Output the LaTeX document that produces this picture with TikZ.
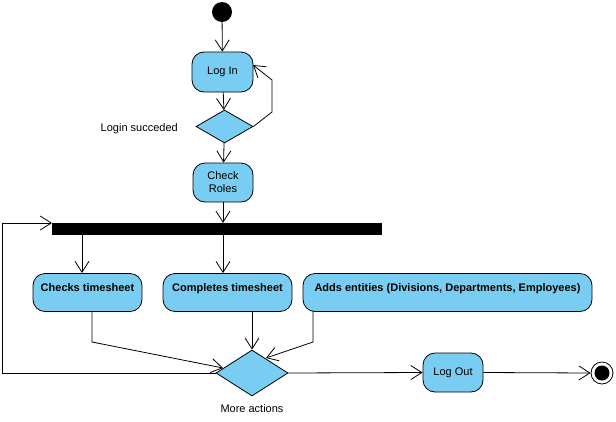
\documentclass[tikz,border=0pt]{standalone}
\usepackage{fontspec}
\setmainfont{Liberation Sans}
\usetikzlibrary{arrows.meta,shapes.geometric}
\definecolor{actfill}{RGB}{122,205,242}
\begin{document}
\begin{tikzpicture}[x=1pt,y=-1pt,
  font=\fontsize{11}{13}\selectfont,
  action/.style={draw=black,line width=0.8pt,fill=actfill,rounded corners=12pt,
    inner sep=0pt,align=center},
  boldaction/.style={action,font=\fontsize{11}{13}\selectfont\bfseries,text depth=11pt,text height=8pt},
  decision/.style={draw=black,line width=0.8pt,fill=actfill,diamond,inner sep=0pt},
  flow/.style={draw=black,line width=0.8pt,-{Straight Barb[length=11pt,width=14pt,line width=0.8pt]}},
]
\useasboundingbox (0,0) rectangle (616,421);

% start and end
\node[circle,fill=black,minimum size=20pt,inner sep=0pt] (start) at (222,12) {};
\node[circle,draw=black,line width=0.8pt,fill=white,minimum size=22pt,inner sep=0pt] (final) at (602,373) {};
\fill[black] (final) circle (7.5pt);

% actions
\node[action,minimum width=61pt,minimum height=40pt] (login) at (222.5,72) {Log In};
\node[decision,minimum width=57pt,minimum height=33pt] (ok) at (224.5,126.5) {};
\node[action,minimum width=60pt,minimum height=39pt] (check) at (223,182.5) {Check\\Roles};
\node[fill=black,minimum width=330pt,minimum height=12pt,inner sep=0pt] (bar) at (217,229) {};
\node[boldaction,minimum width=109pt,minimum height=38pt] (checks) at (87.5,292.5) {Checks timesheet};
\node[boldaction,minimum width=129pt,minimum height=38pt] (completes) at (227.5,292.5) {Completes timesheet};
\node[boldaction,minimum width=289pt,minimum height=38pt] (adds) at (447.5,292.5) {Adds entities (Divisions, Departments, Employees)};
\node[decision,minimum width=72pt,minimum height=46pt] (more) at (252,373) {};
\node[action,minimum width=60pt,minimum height=39pt] (logout) at (453,372.5) {Log Out};

% labels
\node[anchor=east,inner sep=0pt] (oklabel) at (178,129) {Login succeded};
\node[inner sep=0pt] (morelabel) at (252,409) {More actions};

% bend points
\coordinate (retA) at (272,112);
\coordinate (retB) at (272,80);
\coordinate (retEnd) at (253,65);
\coordinate (chkOut) at (92,311);
\coordinate (chkBend) at (92,342);
\coordinate (chkEnd) at (223,368);
\coordinate (addOut) at (313,311);
\coordinate (addBend) at (313,342);
\coordinate (addEnd) at (266,358);
\coordinate (loopA) at (2,373);
\coordinate (loopB) at (2,223);
\coordinate (barIn) at (52,223);
\coordinate (toChecks) at (82,235);
\coordinate (checksTop) at (82,273);

% connectors
\draw[flow] (start) -- (login);
\draw[flow] (login) -- (ok);
\draw[flow] (ok.east) -- (retA) -- (retB) -- (retEnd);
\draw[flow] (ok) -- (check);
\draw[flow] (check.south) -- (check |- bar.north);
\draw[flow] (toChecks) -- (checksTop);
\draw[flow] (check |- bar.south) -- (check |- completes.north);
\draw[flow] (chkOut) -- (chkBend) -- (chkEnd);
\draw[flow] (more.north |- completes.south) -- (more.north);
\draw[flow] (addOut) -- (addBend) -- (addEnd);
\draw[flow] (more.west) -- (loopA) -- (loopB) -- (barIn);
\draw[flow] (more.east) -- (logout.west);
\draw[flow] (logout.east) -- (final.west);
\end{tikzpicture}
\end{document}
